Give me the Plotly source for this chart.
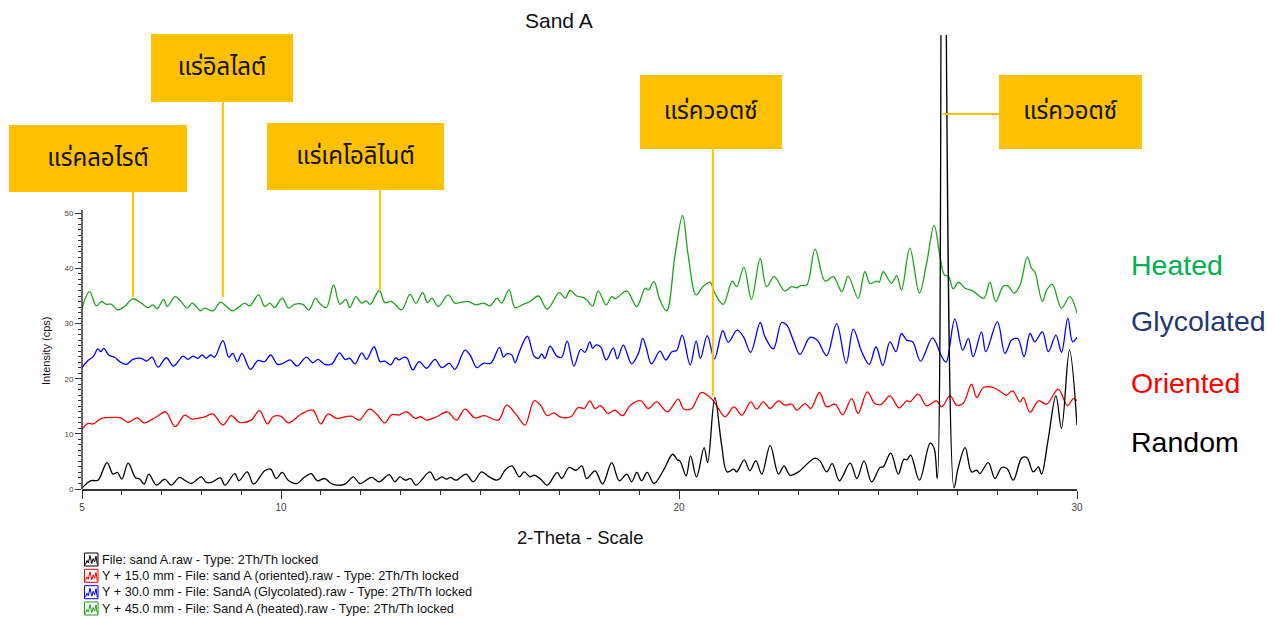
import plotly.graph_objects as go

# ---------------- data (2-theta in degrees, intensity in cps) ----------------
random_x = [5.00, 5.23, 5.40, 5.63, 5.78, 5.89, 6.00, 6.16, 6.34, 6.45, 6.56, 6.68, 6.87, 7.08, 7.24,
            7.45, 7.60, 7.75, 8.00, 8.12, 8.25, 8.48, 8.59, 8.84, 8.94, 9.15, 9.31, 9.59, 9.74, 9.88,
            10.03, 10.18, 10.40, 10.58, 10.76, 10.91, 11.10, 11.26, 11.40, 11.61, 11.82, 11.98, 12.28,
            12.47, 12.72, 12.86, 12.99, 13.12, 13.26, 13.39, 13.74, 13.89, 14.04, 14.16, 14.26, 14.40,
            14.65, 14.83, 15.04, 15.23, 15.42, 15.50, 15.63, 15.80, 15.99, 16.11, 16.26, 16.36, 16.52,
            16.69, 16.94, 17.05, 17.24, 17.41, 17.56, 17.68, 17.89, 18.08, 18.31, 18.50, 18.69, 18.81,
            18.94, 19.06, 19.20, 19.37, 19.61, 19.84, 19.96, 20.03, 20.18, 20.29, 20.44, 20.63, 20.72,
            20.90, 21.07, 21.21, 21.38, 21.45, 21.64, 21.78, 21.93, 22.08, 22.29, 22.50, 22.64, 22.79,
            23.00, 23.14, 23.42, 23.54, 23.71, 23.85, 24.03, 24.30, 24.47, 24.65, 24.84, 25.05, 25.13,
            25.32, 25.51, 25.65, 25.73, 25.82, 26.04, 26.31, 26.41, 26.49, 26.63, 26.91, 27.01, 27.19,
            27.35, 27.48, 27.56, 27.77, 27.94, 28.11, 28.24, 28.40, 28.61, 28.74, 28.90, 29.03, 29.11,
            29.28, 29.47, 29.61, 29.81, 30.00]
random_y = [0.2, 1.5, 1.6, 4.8, 2.7, 3.0, 1.8, 4.7, 2.1, 1.8, 0.9, 2.7, 0.7, 1.8, 0.7,
            2.1, 1.5, 1.0, 2.2, 1.2, 1.2, 2.0, 0.7, 2.8, 1.5, 3.1, 0.9, 3.3, 3.6, 1.9,
            3.0, 1.6, 1.0, 2.1, 2.8, 1.5, 1.9, 1.0, 0.7, 0.9, 2.2, 1.0, 2.1,
            1.3, 2.6, 1.3, 2.2, 1.6, 1.9, 0.7, 3.1, 1.6, 2.2, 1.8, 2.1, 1.6,
            2.7, 1.3, 3.1, 2.2, 1.6, 1.9, 3.4, 4.2, 2.2, 3.1, 2.2, 2.5, 1.8,
            0.7, 3.0, 1.9, 3.9, 3.4, 4.2, 1.9, 3.3, 0.9, 4.8, 1.5, 2.7, 1.3,
            3.0, 1.5, 3.0, 1.0, 3.4, 6.3, 5.3, 5.0, 2.4, 6.0, 2.2, 7.5, 4.8,
            16.6, 8.0, 3.1, 3.6, 3.1, 5.3, 3.3, 5.1, 2.7, 7.9, 2.7, 4.2, 2.5,
            3.1, 4.0, 5.6, 5.1, 3.1, 4.6, 1.5, 4.7, 1.9, 5.1, 1.3, 3.9, 4.0,
            6.5, 2.7, 5.4, 5.3, 6.2, 1.6, 8.3, 7.4, 1.9, 155.0, 0.2, 3.7, 7.5,
            3.1, 3.4, 2.8, 4.8, 1.9, 3.9, 3.7, 1.6, 5.6, 5.7, 3.1, 4.0, 2.7,
            9.2, 16.9, 11.0, 25.2, 11.6]

oriented_x = [5.00, 5.15, 5.28, 5.49, 5.82, 5.97, 6.16, 6.39, 6.56, 6.87, 7.10, 7.34, 7.58, 7.75, 8.08,
              8.29, 8.54, 8.75, 8.96, 9.25, 9.46, 9.66, 9.80, 9.99, 10.19, 10.51, 10.80, 11.00, 11.18,
              11.40, 11.61, 11.78, 11.97, 12.22, 12.40, 12.61, 12.78, 12.95, 13.16, 13.37, 13.51, 13.66,
              13.91, 14.18, 14.41, 14.62, 14.87, 15.11, 15.46, 15.67, 15.92, 16.13, 16.36, 16.52, 16.69,
              16.86, 17.01, 17.28, 17.47, 17.62, 17.76, 17.89, 18.03, 18.22, 18.39, 18.58, 18.78, 19.04,
              19.23, 19.44, 19.71, 19.98, 20.12, 20.32, 20.56, 20.84, 20.99, 21.16, 21.38, 21.58, 21.80,
              21.95, 22.12, 22.29, 22.50, 22.66, 22.83, 22.96, 23.17, 23.31, 23.53, 23.71, 23.92, 24.11,
              24.34, 24.50, 24.73, 24.92, 25.09, 25.30, 25.53, 25.72, 25.80, 26.01, 26.22, 26.47, 26.60,
              26.81, 26.98, 27.14, 27.35, 27.48, 27.65, 27.90, 28.11, 28.22, 28.38, 28.57, 28.65, 28.82,
              29.03, 29.24, 29.53, 29.76, 29.91, 30.00]
oriented_y = [10.8, 11.9, 11.8, 12.8, 13.0, 12.9, 12.1, 12.9, 12.0, 13.1, 14.0, 11.3, 13.4, 12.7, 13.1,
              13.6, 11.6, 13.3, 12.1, 12.5, 14.2, 11.8, 13.1, 13.2, 12.0, 13.6, 14.3, 11.8, 13.6,
              12.8, 13.1, 13.2, 12.5, 14.5, 13.6, 12.0, 13.5, 13.4, 14.0, 12.8, 13.1, 12.5,
              13.1, 14.0, 12.5, 14.5, 12.9, 13.3, 12.5, 15.2, 13.4, 11.6, 16.0, 15.2, 13.3,
              13.8, 13.1, 13.1, 14.8, 14.6, 16.0, 14.6, 15.1, 13.7, 14.3, 13.3, 15.2, 16.0,
              14.6, 15.8, 14.0, 16.3, 14.5, 14.6, 17.5, 16.2, 14.6, 13.1, 14.9, 13.4, 15.8,
              14.5, 15.8, 14.6, 16.0, 15.2, 15.4, 14.3, 15.5, 14.6, 17.5, 14.9, 15.4, 13.5,
              16.4, 13.7, 17.6, 15.5, 15.4, 16.9, 14.7, 16.0, 15.8, 17.2, 15.1, 16.0, 14.9,
              16.9, 15.2, 15.5, 19.0, 16.6, 18.4, 18.4, 17.5, 17.0, 17.8, 15.8, 16.6, 13.9,
              16.0, 15.4, 18.1, 15.1, 16.4, 16.0]

glycolated_x = [5.00, 5.15, 5.28, 5.40, 5.47, 5.55, 5.67, 5.82, 5.95, 6.11, 6.28, 6.49, 6.62, 6.76, 6.91,
                7.12, 7.30, 7.54, 7.66, 7.79, 7.91, 8.02, 8.12, 8.23, 8.33, 8.54, 8.69, 8.79, 8.90, 9.02,
                9.23, 9.42, 9.59, 9.74, 9.91, 10.05, 10.23, 10.40, 10.64, 10.80, 10.93, 11.10, 11.28,
                11.47, 11.61, 11.73, 11.86, 12.03, 12.15, 12.34, 12.49, 12.61, 12.76, 12.88, 12.96, 13.09,
                13.17, 13.31, 13.47, 13.66, 13.87, 14.04, 14.23, 14.37, 14.62, 14.75, 14.92, 15.08, 15.27,
                15.49, 15.59, 15.67, 15.80, 15.88, 15.99, 16.19, 16.36, 16.47, 16.55, 16.63, 16.76, 16.93,
                17.05, 17.19, 17.36, 17.53, 17.64, 17.76, 17.83, 17.91, 18.03, 18.17, 18.35, 18.45, 18.60,
                18.81, 18.98, 19.09, 19.17, 19.31, 19.52, 19.67, 19.82, 19.94, 20.08, 20.28, 20.43, 20.54,
                20.71, 20.89, 21.10, 21.24, 21.46, 21.62, 21.80, 22.04, 22.16, 22.37, 22.58, 22.71, 22.87,
                23.04, 23.29, 23.47, 23.71, 23.96, 24.20, 24.38, 24.59, 24.78, 24.95, 25.12, 25.30, 25.45,
                25.59, 25.72, 25.87, 26.07, 26.37, 26.60, 26.71, 26.93, 27.13, 27.27, 27.39, 27.60, 27.71,
                28.00, 28.19, 28.36, 28.51, 28.67, 28.82, 28.94, 29.13, 29.28, 29.47, 29.61, 29.77, 29.89,
                30.00]
glycolated_y = [22.0, 23.3, 24.0, 25.4, 24.9, 25.5, 24.3, 23.9, 23.1, 22.6, 23.5, 23.7, 23.2, 23.9, 22.1,
                23.8, 22.3, 24.1, 23.5, 24.1, 23.7, 24.3, 23.7, 24.3, 23.9, 26.9, 23.9, 24.6, 23.1, 24.6,
                21.7, 23.3, 23.1, 24.3, 22.6, 22.8, 23.4, 22.3, 23.9, 22.9, 23.5, 22.6, 22.7,
                24.7, 23.5, 23.7, 22.7, 24.7, 23.5, 25.8, 23.1, 23.2, 22.5, 23.8, 23.4, 23.9,
                23.7, 21.6, 23.1, 21.9, 23.5, 22.0, 22.8, 21.7, 25.2, 24.3, 22.0, 22.8, 22.8,
                25.7, 23.9, 24.5, 24.3, 22.9, 24.9, 27.7, 24.1, 23.7, 24.5, 23.7, 25.9, 24.1,
                23.9, 26.8, 22.3, 25.3, 24.8, 26.7, 25.5, 26.1, 25.8, 23.4, 25.6, 23.6, 26.1,
                22.7, 24.6, 27.3, 25.8, 22.7, 25.0, 23.4, 24.9, 25.1, 27.9, 22.5, 26.8, 23.7,
                27.8, 23.6, 28.7, 26.6, 28.8, 27.6, 24.8, 30.2, 27.6, 25.4, 30.2, 29.7, 27.0,
                24.4, 27.5, 27.0, 24.2, 30.0, 22.8, 29.0, 24.9, 22.6, 25.8, 22.4, 26.7, 24.9,
                28.2, 27.0, 26.7, 23.2, 27.4, 24.0, 23.0, 30.8, 25.2, 27.3, 24.0, 28.5, 24.9,
                30.3, 24.6, 27.0, 27.3, 24.0, 28.2, 26.7, 28.5, 24.9, 27.9, 24.8, 31.0, 26.7,
                27.5]

heated_x = [5.00, 5.19, 5.36, 5.49, 5.61, 5.74, 5.89, 6.07, 6.28, 6.49, 6.66, 6.78, 6.89, 7.05, 7.14,
            7.34, 7.49, 7.64, 7.77, 7.87, 7.98, 8.08, 8.29, 8.48, 8.63, 8.77, 8.92, 9.09, 9.21, 9.44,
            9.59, 9.72, 9.84, 10.03, 10.19, 10.34, 10.55, 10.70, 10.87, 10.97, 11.14, 11.32, 11.48,
            11.63, 11.73, 11.88, 12.03, 12.14, 12.24, 12.47, 12.61, 12.78, 13.03, 13.24, 13.39, 13.56,
            13.68, 13.79, 13.95, 14.20, 14.37, 14.54, 14.71, 14.90, 15.10, 15.25, 15.43, 15.54, 15.73,
            15.88, 16.09, 16.26, 16.47, 16.69, 16.99, 17.14, 17.26, 17.43, 17.60, 17.68, 17.83, 17.97,
            18.17, 18.31, 18.40, 18.48, 18.69, 18.94, 19.15, 19.23, 19.37, 19.52, 19.69, 19.90, 20.09,
            20.23, 20.43, 20.60, 20.78, 20.90, 21.11, 21.34, 21.45, 21.63, 21.82, 22.04, 22.20, 22.39,
            22.66, 22.83, 22.96, 23.06, 23.21, 23.42, 23.67, 23.88, 24.09, 24.25, 24.50, 24.67, 24.80,
            24.97, 25.03, 25.13, 25.34, 25.47, 25.59, 25.80, 26.04, 26.22, 26.41, 26.56, 26.67, 26.77,
            26.89, 27.02, 27.19, 27.39, 27.66, 27.81, 27.96, 28.15, 28.27, 28.42, 28.57, 28.75, 28.86,
            28.94, 29.13, 29.24, 29.38, 29.61, 29.82, 30.00]
heated_y = [32.8, 35.8, 33.2, 34.0, 33.5, 33.5, 32.5, 33.1, 34.5, 33.7, 32.9, 33.4, 32.7, 34.4, 33.1,
            34.9, 34.0, 32.8, 33.7, 33.1, 32.3, 32.8, 32.3, 33.9, 33.1, 32.3, 32.9, 33.7, 33.2, 35.2,
            33.1, 33.7, 32.9, 34.6, 32.8, 33.5, 33.5, 32.5, 34.6, 33.7, 32.9, 37.0, 33.5,
            34.4, 32.9, 34.9, 33.7, 34.1, 33.5, 36.0, 33.8, 34.0, 32.5, 35.3, 33.7, 35.6,
            33.8, 34.6, 33.1, 35.2, 33.7, 33.9, 34.0, 33.4, 33.7, 33.2, 34.6, 33.7, 36.1,
            32.9, 33.5, 34.0, 35.0, 32.6, 35.6, 34.6, 36.0, 35.0, 34.7, 34.3, 33.2, 35.9,
            33.4, 34.9, 34.5, 34.9, 35.9, 33.1, 36.4, 36.1, 37.6, 34.3, 32.3, 42.4, 49.6,
            42.4, 35.2, 36.7, 37.5, 35.5, 33.5, 37.7, 36.7, 40.2, 34.4, 41.8, 36.7, 38.5,
            35.9, 36.7, 36.5, 36.9, 37.0, 43.5, 37.7, 38.5, 35.8, 38.6, 34.6, 39.4, 37.3,
            37.7, 37.5, 39.4, 37.3, 38.7, 36.1, 43.7, 35.5, 40.9, 47.8, 42.1, 38.8, 38.6,
            36.3, 37.5, 36.4, 35.9, 34.6, 37.5, 34.0, 36.8, 36.8, 35.5, 37.0, 42.1, 40.0,
            39.4, 34.0, 36.1, 37.1, 32.8, 34.9, 31.9]

x_tick_vals = [5, 10, 15, 20, 25, 30]
x_tick_text = ["5", "10", "", "20", "", "30"]
y_tick_vals = [0, 10, 20, 30, 40, 50]

mineral_labels = ["แร่คลอไรต์", "แร่อิลไลต์", "แร่เคโอลิไนต์", "แร่ควอตซ์", "แร่ควอตซ์"]
mineral_peaks = [6.28, 8.54, 12.49, 20.85, 26.63]

series_names = ["Heated", "Glycolated", "Oriented", "Random"]
legend_texts = [
    "File: sand A.raw - Type: 2Th/Th locked",
    "Y + 15.0 mm - File: sand A (oriented).raw - Type: 2Th/Th locked",
    "Y + 30.0 mm - File: SandA (Glycolated).raw - Type: 2Th/Th locked",
    "Y + 45.0 mm - File: Sand A (heated).raw - Type: 2Th/Th locked",
]

# ---------------- geometry helpers ----------------
W, H = 1278, 619
L, R, T, B = 82, 201, 35, 130
PW, PH = W - L - R, H - T - B
PX_PER_UNIT = 5.514
Y_TOP = PH / PX_PER_UNIT


def pxx(x):
    return (x - L) / PW


def pxy(y):
    return (H - B - y) / PH


def val_y(py):
    return (H - B - py) / PX_PER_UNIT


BLACK, RED, BLUE, GREEN = "#000000", "#FF0000", "#0000FF", "#1AA51A"
YELLOW = "#FFC000"
SANS = "Liberation Sans, Arial, sans-serif"

fig = go.Figure()
for xs, ys, col in [(heated_x, heated_y, GREEN), (glycolated_x, glycolated_y, BLUE),
                    (oriented_x, oriented_y, RED), (random_x, random_y, BLACK)]:
    fig.add_trace(go.Scatter(x=xs, y=ys, mode="lines",
                             line=dict(color=col, width=1.3, shape="spline", smoothing=1.0),
                             showlegend=False, hoverinfo="skip"))

shapes = []
annotations = []

# y axis line (only up to ~50)
shapes.append(dict(type="line", xref="paper", yref="y", x0=0, x1=0, y0=0, y1=50.6,
                   line=dict(color="#333333", width=1.5)))

# connector lines
conn = [(0, 192, 297), (1, 102, 297), (2, 190, 291), (3, 149, 396)]
for i, top, bot in conn:
    shapes.append(dict(type="line", xref="x", yref="y", x0=mineral_peaks[i], x1=mineral_peaks[i],
                       y0=val_y(bot), y1=val_y(top), line=dict(color=YELLOW, width=2)))
shapes.append(dict(type="line", xref="x", yref="y", x0=mineral_peaks[4], x1=5 + (999 - L) / 39.8,
                   y0=val_y(114), y1=val_y(114), line=dict(color=YELLOW, width=2)))

# yellow boxes (center px, width, height)
boxes = [(98, 158.5, 178, 67), (222, 68, 142, 68), (355.5, 156.5, 177, 67),
         (711, 112, 142, 74), (1070.5, 112, 143, 74)]
thai_font = "Noto Sans Thai, Noto Sans Thai Looped, Loma, Garuda, Tahoma, Leelawadee UI, sans-serif"
for (cx, cy, w, h), txt in zip(boxes, mineral_labels):
    annotations.append(dict(text=txt, xref="paper", yref="paper", x=pxx(cx), y=pxy(cy),
                            xanchor="center", yanchor="middle", showarrow=False,
                            width=w, height=h, bgcolor=YELLOW, borderpad=0, borderwidth=0,
                            font=dict(family=thai_font, size=24, color="#111111")))

# title and axis titles
annotations.append(dict(text="Sand A", xref="paper", yref="paper", x=pxx(559), y=pxy(20),
                        xanchor="center", yanchor="middle", showarrow=False,
                        font=dict(family=SANS, size=21, color="#111111")))
annotations.append(dict(text="2-Theta - Scale", xref="paper", yref="paper", x=pxx(580), y=pxy(537),
                        xanchor="center", yanchor="middle", showarrow=False,
                        font=dict(family=SANS, size=18.5, color="#111111")))
annotations.append(dict(text="Intensity (cps)", xref="paper", yref="paper", x=pxx(46), y=pxy(351),
                        xanchor="center", yanchor="middle", showarrow=False, textangle=-90,
                        font=dict(family=SANS, size=11, color="#111111")))

# right-side series labels
side = [("Heated", 265, "#00B050"), ("Glycolated", 321, "#1F3A70"),
        ("Oriented", 383, "#FF0000"), ("Random", 442, "#000000")]
for name, cy, col in side:
    annotations.append(dict(text=name, xref="paper", yref="paper", x=pxx(1129), y=pxy(cy),
                            xanchor="left", yanchor="middle", showarrow=False,
                            font=dict(family=SANS, size=28.5, color=col)))

# bottom legend with icons
rows = [559.5, 575.8, 592.2, 608.5]
icon_cols = [BLACK, RED, BLUE, GREEN]
for cy, txt, col in zip(rows, legend_texts, icon_cols):
    shapes.append(dict(type="rect", xref="paper", yref="paper", x0=pxx(84.5), x1=pxx(98),
                       y0=pxy(cy + 6.5), y1=pxy(cy - 6.5), line=dict(color=col, width=1)))
    pts = [(85.5, 5), (87, 1), (88.3, 3.5), (90, -4), (91.8, 4), (93.2, -1), (94.6, 2.5),
           (96, -3.5), (97.3, 5)]
    path = "M " + " L ".join(f"{pxx(a):.5f},{pxy(cy + b):.5f}" for a, b in pts)
    shapes.append(dict(type="path", xref="paper", yref="paper", path=path,
                       line=dict(color=col, width=1)))
    annotations.append(dict(text=txt, xref="paper", yref="paper", x=pxx(99.5), y=pxy(cy),
                            xanchor="left", yanchor="middle", showarrow=False,
                            font=dict(family=SANS, size=12.7, color="#111111")))

fig.update_layout(
    width=W, height=H,
    margin=dict(l=L, r=R, t=T, b=B, pad=0),
    paper_bgcolor="white", plot_bgcolor="white",
    showlegend=False,
    shapes=shapes, annotations=annotations,
    xaxis=dict(range=[5, 30], showgrid=False, zeroline=False, showline=True,
               linecolor="#333333", linewidth=1.5,
               ticks="outside", tickvals=x_tick_vals, ticktext=x_tick_text,
               ticklen=8, tickwidth=1.2, tickcolor="#333333",
               tickfont=dict(family=SANS, size=10, color="#444444"),
               minor=dict(tickvals=list(range(5, 31)), ticks="outside", ticklen=4,
                          tickcolor="#333333", tickwidth=1)),
    yaxis=dict(range=[0, Y_TOP], showgrid=False, zeroline=False, showline=False,
               ticks="outside", tickvals=y_tick_vals, ticklen=6, tickwidth=1.2, tickcolor="#333333",
               tickfont=dict(family=SANS, size=8, color="#444444"),
               minor=dict(tickvals=list(range(0, 51)), ticks="outside", ticklen=3,
                          tickcolor="#333333", tickwidth=1)),
)

fig.write_html("out.html")
